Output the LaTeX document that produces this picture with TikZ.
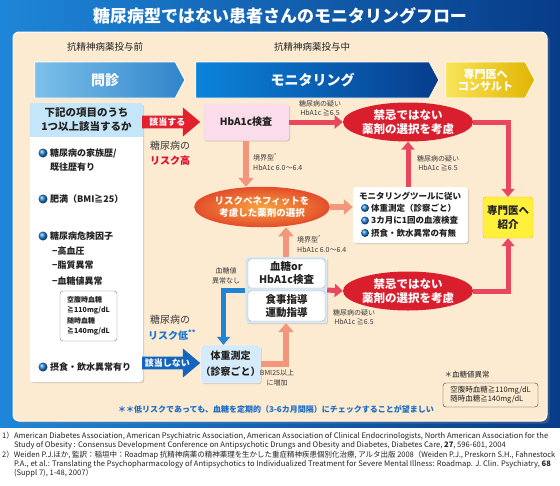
\documentclass[tikz,border=0pt]{standalone}
\usepackage{fontspec}
\setmainfont{Noto Sans CJK JP}
\usetikzlibrary{arrows.meta,shapes.geometric,shapes.arrows,shapes.symbols,shadows}

\definecolor{bgl}{HTML}{1E86D8}
\definecolor{bgm}{HTML}{0C66BE}
\definecolor{bgr}{HTML}{073C88}
\definecolor{panel}{HTML}{FCEAD1}
\definecolor{c1l}{HTML}{7DC0EA}
\definecolor{c1r}{HTML}{2F84CB}
\definecolor{c2l}{HTML}{0A84DA}
\definecolor{c2r}{HTML}{083C8C}
\definecolor{c3l}{HTML}{F8E45A}
\definecolor{c3r}{HTML}{E2B400}
\definecolor{headblue}{HTML}{C5E6F8}
\definecolor{hbapink}{HTML}{FADCEA}
\definecolor{ngred}{HTML}{D91F2E}
\definecolor{linered}{HTML}{E8475E}
\definecolor{pale}{HTML}{F3977C}
\definecolor{linkblue}{HTML}{2283D6}
\definecolor{rbout}{HTML}{E4502B}
\definecolor{rbin}{HTML}{F7A33E}
\definecolor{yesred}{HTML}{E3202E}
\definecolor{noblue}{HTML}{1565BF}
\definecolor{specyel}{HTML}{FFF03C}
\definecolor{specedge}{HTML}{F2C200}
\definecolor{bloodbg}{HTML}{D3E6F4}
\definecolor{weightbg}{HTML}{D6EBF9}
\definecolor{txtgray}{HTML}{3A3A3A}
\definecolor{txtdark}{HTML}{222222}
\definecolor{hired}{HTML}{E30B2D}
\definecolor{lowblue}{HTML}{1C76CF}
\definecolor{noteblue}{HTML}{1B6CC6}
\definecolor{bullblue}{HTML}{1E7FD8}

\begin{document}
\begin{tikzpicture}[x=1pt, y=-1pt,
    chev/.style={signal, signal to=east, signal pointer angle=124, minimum height=36, inner sep=0, draw=white, line width=.8, text=white, font=\bfseries\fontsize{14}{16}\selectfont},
    card/.style={rectangle, rounded corners=3pt, inner sep=0},
    shade card/.style={card, drop shadow={opacity=.3, shadow xshift=1.2pt, shadow yshift=-1.2pt}},
    ngblob/.style={ellipse, inner sep=0, text=white, align=center, minimum width=104, minimum height=39, fill=ngred, font=\bfseries\fontsize{11.5}{13.5}\selectfont},
    bigarrow/.style={single arrow, single arrow head extend=8, single arrow tip angle=80, minimum height=58, inner sep=2, text=white, anchor=west, font=\bfseries\fontsize{9}{10}\selectfont},
    tiny/.style={align=center, text=txtgray, inner sep=0, font=\fontsize{7}{9.5}\selectfont},
    item/.style={anchor=west, inner sep=0, align=left, text=txtdark, font=\bfseries\fontsize{9}{14}\selectfont},
    montext/.style={anchor=west, inner sep=0, text=txtdark, font=\bfseries\fontsize{8.5}{10}\selectfont},
    dot/.style={ball color=bullblue},
    redline/.style={draw=linered, line width=5, -{Triangle[width=13pt,length=8pt]}},
    paleline/.style={draw=pale, line width=6, -{Triangle[width=15pt,length=9pt]}},
    blueline/.style={draw=linkblue, line width=5, -{Triangle[width=13pt,length=8pt]}}]
    \useasboundingbox (0,0) rectangle (560,485);
    \shade[left color=bgl, middle color=bgm, right color=bgr] (0,0) rectangle (560,428);
    \fill[white] (0,428) rectangle (560,485);
    \path[fill=panel, draw=white, line width=1, rounded corners=6pt, drop shadow={opacity=.35}] (13,32) rectangle (547,421);

    \node[text=white, font=\bfseries\fontsize{17}{20}\selectfont] (title) at (280,16) {糖尿病型ではない患者さんのモニタリングフロー};
    \node[text=txtdark, font=\fontsize{9.5}{11}\selectfont] (before) at (105,47) {抗精神病薬投与前};
    \node[text=txtdark, font=\fontsize{9.5}{11}\selectfont] (during) at (312,47) {抗精神病薬投与中};

    \node[chev, minimum width=150, left color=c1l, right color=c1r] (ask) at (105,80) {問診};
    \node[chev, minimum width=243, left color=c2l, right color=c2r] (watch) at (312.5,80) {モニタリング};
    \node[chev, minimum width=89, left color=c3l, right color=c3r, align=center, font=\bfseries\fontsize{11}{12.5}\selectfont] (consult) at (485.5,80) {専門医へ\\コンサルト};

    \node[shade card, fill=white, minimum width=113, minimum height=279] (check) at (86.5,242.5) {};
    \begin{scope}
        \clip[rounded corners=3pt] (check.north west) rectangle (check.south east);
        \fill[headblue] (check.north west) rectangle (143,137);
    \end{scope}
    \node[align=center, text=txtdark, font=\bfseries\fontsize{10.5}{14}\selectfont] (question) at (86.5,120) {下記の項目のうち\\1つ以上該当するか};
    \shade[dot] (43,153) circle (4.5);
    \node[item] (family) at (50,160) {糖尿病の家族歴/\\既往歴有り};
    \shade[dot] (43,199) circle (4.5);
    \node[item] (obese) at (50,199) {肥満（BMI≧25）};
    \shade[dot] (43,236) circle (4.5);
    \node[item] (factor) at (50,236) {糖尿病危険因子};
    \node[item] (hyper) at (52,251) {−高血圧};
    \node[item] (lipid) at (52,265) {−脂質異常};
    \node[item] (sugar) at (52,281) {−血糖値異常};
    \node[card, draw=gray, fill=white, minimum width=57, minimum height=50, align=left, text=txtdark, font=\bfseries\fontsize{7}{10.4}\selectfont] (limits) at (88.5,316) {空腹時血糖\\≧110mg/dL\\随時血糖\\≧140mg/dL};
    \shade[dot] (43,367) circle (4.5);
    \node[item] (eating) at (50,367) {摂食・飲水異常有り};

    \node[bigarrow, fill=yesred] (yes) at (142,122) {該当する};
    \node[text=txtgray, font=\fontsize{10}{12}\selectfont] (risk1) at (170,146) {糖尿病の};
    \node[text=hired, font=\bfseries\fontsize{10}{12}\selectfont] (high) at (170,161) {リスク高};
    \node[text=txtgray, font=\fontsize{10}{12}\selectfont] (risk2) at (170,320) {糖尿病の};
    \node[text=lowblue, font=\bfseries\fontsize{10}{12}\selectfont] (low) at (172,335) {リスク低\textsuperscript{**}};
    \node[bigarrow, fill=noblue] (no) at (142,363) {該当しない};

    \node[shade card, fill=hbapink, minimum width=86, minimum height=37, text=txtdark, font=\bfseries\fontsize{10}{12}\selectfont] (hba) at (246,122) {HbA1c検査};
    \node[ngblob] (ngtop) at (408,122) {禁忌ではない\\薬剤の選択を考慮};
    \node[ngblob] (ngbot) at (408,291) {禁忌ではない\\薬剤の選択を考慮};
    \node[ellipse, inner sep=0, minimum width=111, minimum height=39, inner color=rbin, outer color=rbout, draw=rbout, line width=1.5, text=white, align=center, font=\bfseries\fontsize{9.5}{12}\selectfont] (rb) at (262,207) {リスクベネフィットを\\考慮した薬剤の選択};
    \node[card, fill=specyel, draw=specedge, minimum width=50, minimum height=41, align=center, text=txtdark, font=\bfseries\fontsize{10.5}{14}\selectfont] (spec) at (508,217.5) {専門医へ\\紹介};

    \node[shade card, fill=white, minimum width=115, minimum height=56] (montool) at (410.5,215) {};
    \node[text=txtdark, font=\bfseries\fontsize{8.5}{10}\selectfont] (montitle) at (410,196) {モニタリングツールに従い};
    \shade[dot] (365,208) circle (4);
    \node[montext] (weigh) at (371,208) {体重測定（診察ごと）};
    \shade[dot] (365,220.5) circle (4);
    \node[montext] (blood3) at (371,220.5) {3カ月に1回の血液検査};
    \shade[dot] (365,233) circle (4);
    \node[montext] (eat) at (371,233) {摂食・飲水異常の有無};

    \node[shade card, fill=bloodbg, draw=white, minimum width=82, minimum height=66] (blood) at (286,290) {};
    \node[card, fill=white, draw=gray!60, minimum width=77, minimum height=29, align=center, text=txtdark, font=\bfseries\fontsize{10.5}{13}\selectfont] (test) at (286.5,273.5) {血糖or\\HbA1c検査};
    \node[card, fill=white, draw=gray!60, minimum width=77, minimum height=30, align=center, text=txtdark, font=\bfseries\fontsize{10.5}{13}\selectfont] (guide) at (286.5,306) {食事指導\\運動指導};
    \node[shade card, fill=weightbg, draw=white, minimum width=53, minimum height=38, align=center, text=txtdark, font=\bfseries\fontsize{10}{16}\selectfont] (weight) at (230.5,364) {体重測定\\（診察ごと）};

    \draw[redline] (hba.east) -- (ngtop.west);
    \draw[redline] (ngtop.east) -| (spec.north);
    \draw[redline] (ngbot.east) -| (spec.south);
    \draw[redline] (ngtop.south |- montool.north) -- (ngtop.south);
    \draw[redline] (blood.east) -- (ngbot.west);
    \draw[paleline] (hba.south) -- (hba.south |- rb.north);
    \draw[paleline] (rb.east) -- (rb.east -| montool.west);
    \draw[paleline] (blood.north) -- (blood.north |- rb.south);
    \draw[paleline] (weight.east) -| (blood.south);
    \draw[blueline] (blood.west) -| ([xshift=-7pt]weight.north);

    \node[tiny] (susp1) at (320,108) {糖尿病の疑い\\HbA1c ≧6.5};
    \node[tiny, anchor=west, align=left] (border1) at (253,162) {境界型\textsuperscript{*}\\HbA1c 6.0～6.4};
    \node[tiny] (susp2) at (438,163) {糖尿病の疑い\\HbA1c ≧6.5};
    \node[tiny, anchor=west, align=left] (border2) at (297,244) {境界型\textsuperscript{*}\\HbA1c 6.0～6.4};
    \node[tiny] (susp3) at (354,317) {糖尿病の疑い\\HbA1c ≧6.5};
    \node[tiny] (normal) at (226,276) {血糖値\\異常なし};
    \node[tiny] (bmi) at (277,378) {BMI25以上\\に増加};

    \node[text=noteblue, font=\bfseries\fontsize{8}{10}\selectfont] (lownote) at (276,409) {＊＊低リスクであっても、血糖を定期的（3-6カ月間隔）にチェックすることが望ましい};
    \node[anchor=west, text=txtdark, font=\fontsize{7.5}{9}\selectfont] (starnote) at (441,375) {＊血糖値異常};
    \node[card, draw=txtgray, minimum width=95, minimum height=24, align=left, text=txtdark, font=\fontsize{7.5}{9.5}\selectfont] (range) at (490.5,395) {空腹時血糖≧110mg/dL\\随時血糖≧140mg/dL};

    \node[anchor=north west, inner sep=0, align=left, text=txtdark, font=\fontsize{7.6}{9.2}\selectfont] (refs) at (2,432) {1）American Diabetes Association, American Psychiatric Association, American Association of Clinical Endocrinologists, North American Association for the\\
    \phantom{1）}Study of Obesity : Consensus Development Conference on Antipsychotic Drungs and Obesity and Diabetes, Diabetes Care, \textbf{27}, 596-601, 2004\\
    \resizebox{553pt}{\height}{2）Weiden P.J.ほか, 監訳：稲垣中：Roadmap 抗精神病薬の精神薬理を生かした重症精神疾患個別化治療, アルタ出版 2008（Weiden P.J., Preskorn S.H., Fahnestock}\\
    \phantom{2）}P.A., et al.: Translating the Psychopharmacology of Antipsychotics to Individualized Treatment for Severe Mental Illness: Roadmap. J. Clin. Psychiatry, \textbf{68}\\
    \phantom{2）}(Suppl 7), 1-48, 2007）};
\end{tikzpicture}
\end{document}
